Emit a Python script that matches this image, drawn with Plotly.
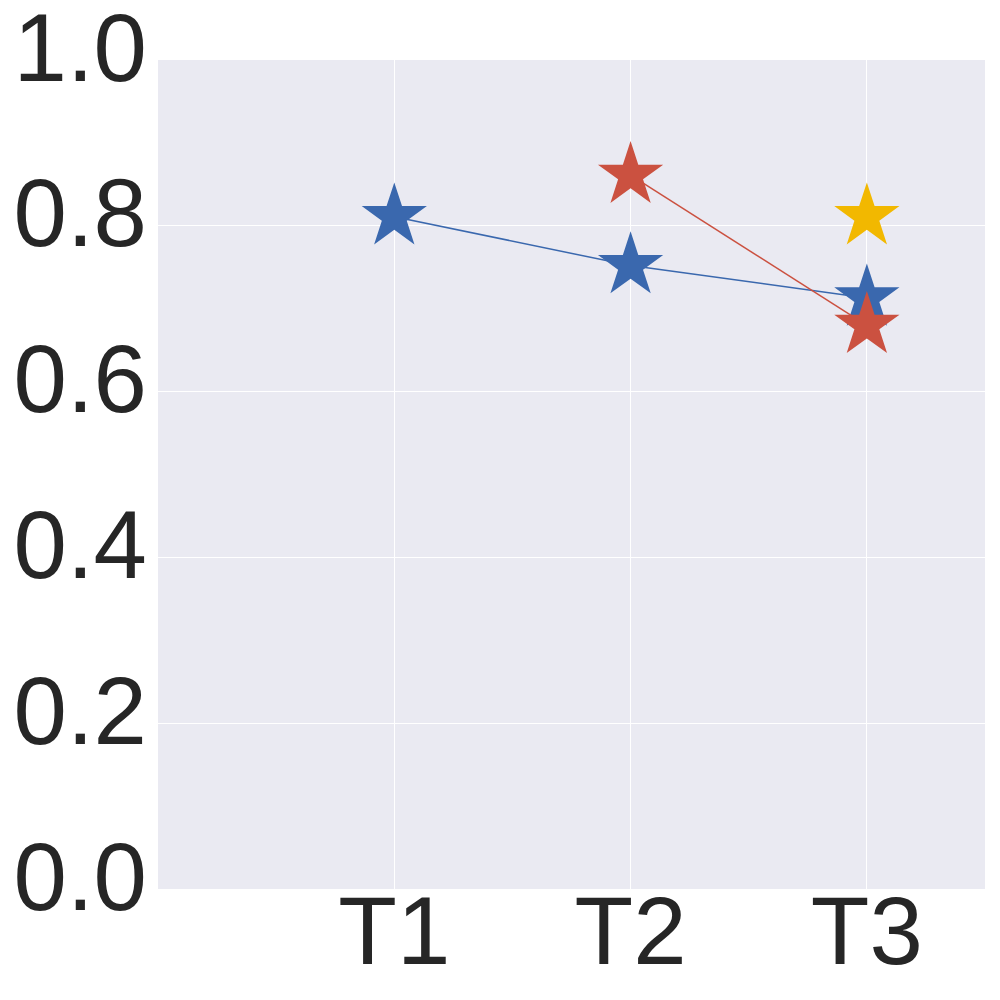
import plotly.graph_objects as go

# tasks on the x axis
tasks = ['T1', 'T2', 'T3']
task_pos = [1, 2, 3]

# scores per series
blue_x = [1, 2, 3]
blue_y = [0.811, 0.752, 0.713]
red_x = [2, 3]
red_y = [0.861, 0.680]
yellow_x = [3]
yellow_y = [0.811]

y_ticks = [0.0, 0.2, 0.4, 0.6, 0.8, 1.0]

series = [
    (blue_x, blue_y, '#3a68ae'),
    (red_x, red_y, '#cb5140'),
    (yellow_x, yellow_y, '#f2b800'),
]

fig = go.Figure()
for xs, ys, col in series:
    fig.add_trace(go.Scatter(
        x=xs, y=ys, mode='lines+markers',
        line=dict(color=col, width=1.5),
        marker=dict(symbol='star', size=49, color=col, line=dict(width=0)),
        showlegend=False,
    ))

# page body has an 8px margin, so the figure sits 8px right/down
fig.update_layout(
    width=1000, height=1000,
    margin=dict(l=150, r=23, t=52, b=119),
    paper_bgcolor='white',
    plot_bgcolor='#eaeaf2',
    font=dict(family='Liberation Sans, Arial, sans-serif', size=96, color='#262626'),
)
fig.update_xaxes(
    range=[0, 3.5], tickvals=task_pos, ticktext=tasks,
    showgrid=True, gridcolor='white', gridwidth=1,
    zeroline=False, showline=False, automargin=False,
    ticks='', ticklabelstandoff=-22, ticklabeloverflow='allow',
)
fig.update_yaxes(
    range=[0, 1], tickvals=y_ticks, tickformat='.1f',
    showgrid=True, gridcolor='white', gridwidth=1,
    zeroline=False, showline=False, automargin=False,
    ticks='', ticklabelstandoff=10, ticklabelshift=-13, ticklabeloverflow='allow',
)

fig.write_html("out.html")
